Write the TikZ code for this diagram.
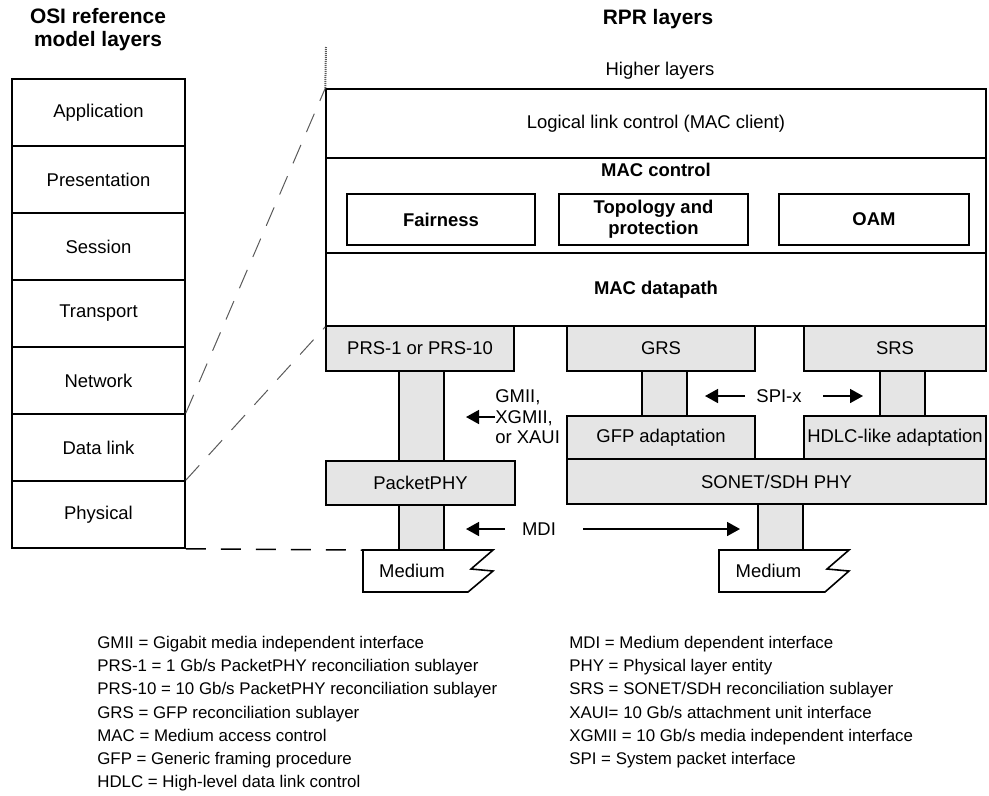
\documentclass[tikz,border=0pt]{standalone}
\usepackage{fontspec}
\setmainfont{Liberation Sans}
\usetikzlibrary{arrows.meta,positioning}

\definecolor{r229g229b229}{rgb}{0.898039,0.898039,0.898039}
\definecolor{r90g90b90}{rgb}{0.352941,0.352941,0.352941}

\begin{document}
\begin{tikzpicture}[x=0.02cm, y=-0.02cm,
    every node/.style={font=\fontsize{10.5}{12}\selectfont},
    layer/.style={draw, line width=0.032cm, inner sep=1pt, align=center},
    boldlayer/.style={layer, font=\fontsize{10.5}{12}\selectfont\bfseries},
    shaded/.style={layer, fill=r229g229b229},
    pillar/.style={shaded, minimum width=0.9cm},
    heading/.style={font=\fontsize{11.9}{13}\selectfont\bfseries, align=center},
    legend/.style={font=\fontsize{9.6}{13.2}\selectfont, align=left, anchor=north west, inner sep=0pt},
    arr/.style={line width=0.032cm, -{Triangle[length=0.26cm,width=0.28cm]}},
    mapline/.style={draw=r90g90b90, line width=0.02cm, dash pattern=on 0.4cm off 0.28cm}]
\useasboundingbox (0,0) rectangle (989,795);

% Headings
\node[heading] (osititle) at (98,29.5) {OSI reference\\model layers};
\node[heading] (rprtitle) at (658,19) {RPR layers};

% OSI reference model layers
\node[layer, minimum width=3.46cm, minimum height=1.34cm] (app) at (98.5,112.5) {Application};%
\node[layer, minimum width=3.46cm, minimum height=1.34cm] (pres) at (98.5,179.5) {Presentation};%
\node[layer, minimum width=3.46cm, minimum height=1.34cm] (sess) at (98.5,246.5) {Session};%
\node[layer, minimum width=3.46cm, minimum height=1.34cm] (trans) at (98.5,313.5) {Transport};%
\node[layer, minimum width=3.46cm, minimum height=1.34cm] (net) at (98.5,380.5) {Network};%
\node[layer, minimum width=3.46cm, minimum height=1.34cm] (dl) at (98.5,447.5) {Data link};%
\node[layer, minimum width=3.46cm, minimum height=1.34cm] (phys) at (98.5,514.5) {Physical};%

% RPR layers
\node (higher) at (660,71) {Higher layers};%
\node[layer, minimum width=13.2cm, minimum height=1.38cm] (llc) at (656,123.5) {Logical link control (MAC client)};%
\node[layer, minimum width=13.2cm, minimum height=1.9cm] (macctrl) at (656,205.5) {};%
\node[font=\fontsize{10.5}{12}\selectfont\bfseries] (macctrltitle) at (656,170) {MAC control};%
\node[boldlayer, minimum width=3.76cm, minimum height=1.02cm] (fair) at (441,219.5) {Fairness};%
\node[boldlayer, minimum width=3.78cm, minimum height=1.02cm] (topo) at (653.5,219.5) {Topology and\\protection};%
\node[boldlayer, minimum width=3.8cm, minimum height=1.02cm] (oam) at (874,219.5) {OAM};%
\node[boldlayer, minimum width=13.2cm, minimum height=1.46cm] (datapath) at (656,289.5) {MAC datapath};%

% Reconciliation sublayers and PHYs
\node[pillar, minimum height=1.8cm] (prspillar) at (421.5,416) {};%
\node[pillar, minimum height=0.9cm] (phypillar) at (421.5,527.5) {};%
\node[pillar, minimum height=0.9cm] (grspillar) at (664.5,393.5) {};%
\node[pillar, minimum height=0.9cm] (srspillar) at (902.5,393.5) {};%
\node[pillar, minimum height=0.92cm] (sonetpillar) at (780.5,527) {};%
\node[shaded, minimum width=3.76cm, minimum height=0.9cm] (prs) at (420,348.5) {PRS-1 or PRS-10};%
\node[shaded, minimum width=3.76cm, minimum height=0.9cm] (grs) at (661,348.5) {GRS};%
\node[shaded, minimum width=3.64cm, minimum height=0.9cm] (srs) at (895,348.5) {SRS};%
\node[shaded, minimum width=3.78cm, minimum height=0.88cm] (pphy) at (420.5,483) {PacketPHY};%
\node[shaded, minimum width=3.76cm, minimum height=0.86cm] (gfp) at (661,437.5) {GFP adaptation};%
\node[shaded, minimum width=3.64cm, minimum height=0.86cm] (hdlc) at (895,437.5) {HDLC-like adaptation};%
\node[shaded, minimum width=8.38cm, minimum height=0.9cm] (sonet) at (776.5,481.5) {SONET/SDH PHY};%

% Medium shapes
\node (medl) at (412,571) {Medium};%
\node (medr) at (768.5,571) {Medium};%
\coordinate (medlcorner) at (363,550);%
\draw[line width=0.032cm] (medlcorner) -- (493,550) -- (471,569) -- (493,571) -- (468,592) -- (363,592) -- cycle;%
\draw[line width=0.032cm] (719,550) -- (849,550) -- (827,569) -- (849,571) -- (825,592) -- (719,592) -- cycle;%

% Interface labels
\node[font=\fontsize{10.5}{11.6}\selectfont, align=left, anchor=west, inner sep=0pt] (gmii) at (495,417) {GMII,\\XGMII,\\or XAUI};%
\coordinate (gmiitip) at (466,417);%
\draw[arr] (gmii.west) -- (gmiitip);%

\node (spi) at (779,396) {SPI-x};%
\coordinate (spiL) at (745,396);%
\coordinate (spiLtip) at (705,396);%
\coordinate (spiR) at (823,396);%
\coordinate (spiRtip) at (863,396);%
\draw[arr] (spiL) -- (spiLtip);%
\draw[arr] (spiR) -- (spiRtip);%

\node (mdi) at (539,529) {MDI};%
\coordinate (mdiL) at (505,529);%
\coordinate (mdiLtip) at (466,529);%
\coordinate (mdiR) at (583,529);%
\coordinate (mdiRtip) at (740,529);%
\draw[arr] (mdiL) -- (mdiLtip);%
\draw[arr] (mdiR) -- (mdiRtip);%

% Mapping of OSI layers onto RPR layers
\draw[mapline] (dl.north east) -- (llc.north west);%
\draw[mapline] (phys.north east) -- (datapath.south west);%
\draw[line width=0.03cm, dash pattern=on 0.4cm off 0.3cm] (phys.south east) -- (medlcorner);%
\coordinate (hltop) at (326,47);%
\draw[draw=r90g90b90, line width=0.04cm, dash pattern=on 0.02cm off 0.02cm] (hltop) -- (llc.north west);%

% Abbreviations
\node[legend] (legendL) at (97,636) {GMII = Gigabit media independent interface\\
PRS-1 = 1 Gb/s PacketPHY reconciliation sublayer\\
PRS-10 = 10 Gb/s PacketPHY reconciliation sublayer\\
GRS = GFP reconciliation sublayer\\
MAC = Medium access control\\
GFP = Generic framing procedure\\
HDLC = High-level data link control};%
\node[legend] (legendR) at (569,636) {MDI = Medium dependent interface\\
PHY = Physical layer entity\\
SRS = SONET/SDH reconciliation sublayer\\
XAUI= 10 Gb/s attachment unit interface\\
XGMII = 10 Gb/s media independent interface\\
SPI = System packet interface};%
\end{tikzpicture}
\end{document}
